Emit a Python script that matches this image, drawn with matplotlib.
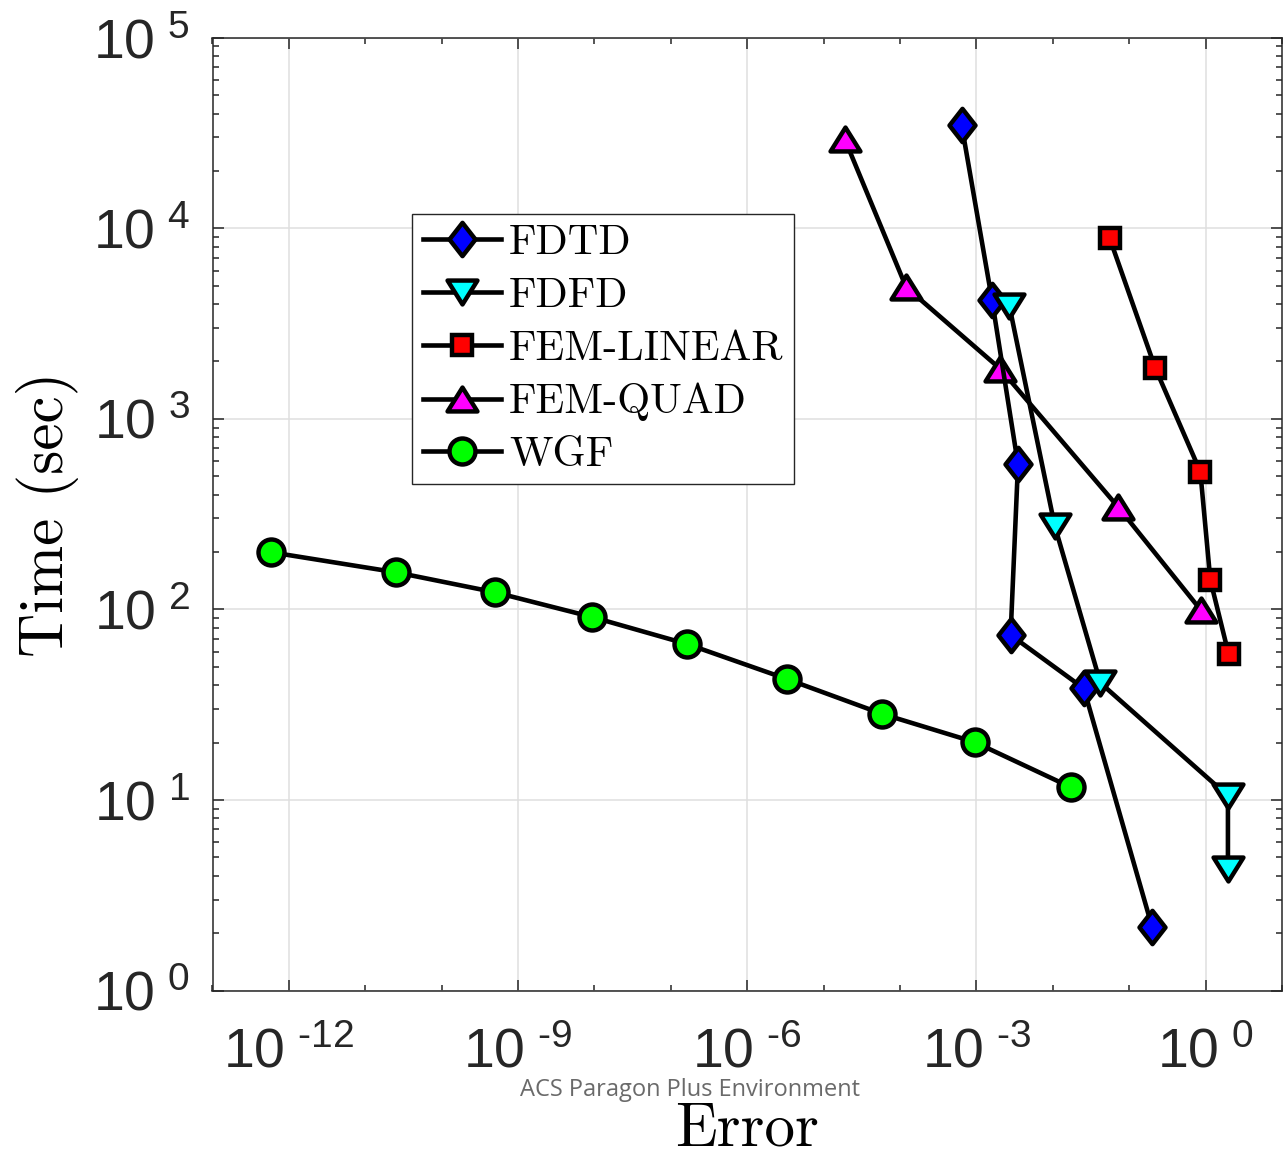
import numpy as np
import matplotlib
matplotlib.use('Agg')
import matplotlib.pyplot as plt
from matplotlib.markers import MarkerStyle
from matplotlib.path import Path
from matplotlib.ticker import FixedLocator, FuncFormatter, NullFormatter

plt.rcParams['font.family'] = ['Liberation Sans', 'DejaVu Sans']
plt.rcParams['mathtext.fontset'] = 'custom'
plt.rcParams['mathtext.rm'] = 'Liberation Sans'

# error vs. wall time for each solver
fdtd_err = [6.4e-4, 1.6e-3, 3.5e-3, 2.8e-3, 2.54e-2, 0.199]
fdtd_time = [34800, 4200, 577, 73.4, 38.5, 2.16]

fdfd_err = [2.7e-3, 1.06e-2, 4.2e-2, 1.96, 1.96]
fdfd_time = [3910, 274, 41.1, 10.5, 4.34]

femlin_err = [5.55e-2, 0.22, 0.853, 1.153, 2.0]
femlin_time = [8860, 1841, 528, 142.6, 58.3]

femquad_err = [1.88e-5, 1.2e-4, 2.04e-3, 7.1e-2, 0.87]
femquad_time = [29500, 4910, 1832, 346, 98.9]

wgf_err = [5.8e-13, 2.5e-11, 4.95e-10, 9.3e-9, 1.63e-7, 3.3e-6, 5.8e-5, 9.5e-4, 1.73e-2]
wgf_time = [199.5, 156.6, 123, 91.2, 65.8, 43.1, 28.3, 20.1, 11.65]

# matlab-ish markers: tall diamond, wide triangles, sharp corners
diamond = MarkerStyle(Path([(0, 1), (0.78, 0), (0, -1), (-0.78, 0), (0, 1)],
                           closed=True), joinstyle='miter')
tri_up = MarkerStyle(Path([(0, 0.8), (1, -0.8), (-1, -0.8), (0, 0.8)],
                          closed=True), joinstyle='miter')
tri_down = MarkerStyle(Path([(0, -0.8), (1, 0.8), (-1, 0.8), (0, -0.8)],
                            closed=True), joinstyle='miter')

fig = plt.figure(figsize=(12.88, 11.56), dpi=100)
ax = fig.add_axes([212.5 / 1288, 1 - 990.5 / 1156,
                   (1282 - 212.5) / 1288, (990.5 - 37.7) / 1156])

common = dict(color='k', lw=3.3, mec='k', mew=3.2)
h_quad, = ax.plot(femquad_err, femquad_time, marker=tri_up, ms=21.5,
                  mfc='#ff00ff', label='FEM-QUAD', zorder=3, **common)
h_fdtd, = ax.plot(fdtd_err, fdtd_time, marker=diamond, ms=24,
                  mfc='#0000ff', label='FDTD', zorder=4, **common)
h_fdfd, = ax.plot(fdfd_err, fdfd_time, marker=tri_down, ms=21.5,
                  mfc='#00ffff', label='FDFD', zorder=5, **common)
h_lin, = ax.plot(femlin_err, femlin_time, marker='s', ms=14.5,
                 mfc='#ff0000', label='FEM-LINEAR', zorder=6, **common)
h_wgf, = ax.plot(wgf_err, wgf_time, marker='o', ms=18.7,
                 mfc='#00ff00', label='WGF', zorder=7, **common)

ax.set_xscale('log')
ax.set_yscale('log')
ax.set_xlim(1e-13, 1e1)
ax.set_ylim(1, 1e5)

ax.xaxis.set_major_locator(FixedLocator(10.0 ** np.arange(-12, 1, 3)))
ax.xaxis.set_minor_locator(FixedLocator([10.0 ** e for e in range(-13, 2)
                                         if e % 3 != 0]))
ax.yaxis.set_major_locator(FixedLocator(10.0 ** np.arange(0, 6)))
ax.yaxis.set_minor_locator(FixedLocator([m * 10.0 ** e for e in range(0, 5)
                                         for m in range(2, 10)]))


def pow_label(v, pos):
    e = int(round(np.log10(v)))
    return r'$\mathregular{10^{\ \text{%d}}}$' % e


ax.xaxis.set_major_formatter(FuncFormatter(pow_label))
ax.yaxis.set_major_formatter(FuncFormatter(pow_label))
ax.xaxis.set_minor_formatter(NullFormatter())
ax.yaxis.set_minor_formatter(NullFormatter())

axcol = '#262626'
ax.tick_params(which='both', direction='in', top=True, right=True,
               color=axcol, labelcolor='#262626', width=1.1)
ax.tick_params(which='major', length=8, labelsize=40)
ax.tick_params(which='minor', length=4.3)
ax.tick_params(axis='x', which='major', pad=27)
ax.tick_params(axis='y', which='major', pad=16)
for s in ax.spines.values():
    s.set_color(axcol)
    s.set_linewidth(1.1)

ax.grid(True, which='major', color='#dfdfdf', lw=1.1)
ax.set_axisbelow(True)

ax.set_xlabel('Error', family='cmr10', fontsize=44, labelpad=16)
ax.set_ylabel('Time (sec)', family='cmr10', fontsize=44, labelpad=10)

leg = ax.legend(handles=[h_fdtd, h_fdfd, h_lin, h_quad, h_wgf],
                loc='upper left', bbox_to_anchor=(0.187, 0.815),
                borderaxespad=0, prop={'family': 'cmr10', 'size': 30.5},
                handlelength=1.85, handletextpad=0.19, labelspacing=0.36,
                borderpad=0.24, fancybox=False, framealpha=1)
leg.get_frame().set_edgecolor(axcol)
leg.get_frame().set_linewidth(1.0)

fig.text(690 / 1288, 1 - 1090 / 1156, 'ACS Paragon Plus Environment',
         family='Open Sans', fontsize=17, color='#6a6a6a',
         ha='center', va='center')

fig.savefig('out.png', dpi=100)
